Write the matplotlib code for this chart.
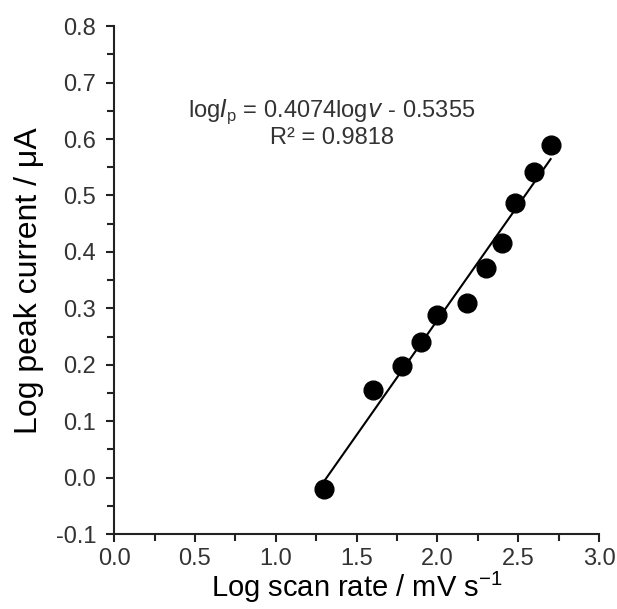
import numpy as np
import matplotlib
matplotlib.use("Agg")
import matplotlib.pyplot as plt
from matplotlib.ticker import MultipleLocator, FormatStrFormatter

plt.rcParams['font.family'] = ['Liberation Sans', 'DejaVu Sans']

log_scan_rate = [1.30, 1.60, 1.78, 1.90, 2.00, 2.18, 2.30, 2.40, 2.48, 2.60, 2.70]
log_peak_current = [-0.020, 0.155, 0.198, 0.240, 0.289, 0.310, 0.371, 0.416, 0.487, 0.541, 0.590]
slope = 0.4074
intercept = -0.5355
equation_text = r"log$I_{\mathregular{p}}$ = 0.4074log$v$ - 0.5355"
r2_text = "R² = 0.9818"

fig = plt.figure(figsize=(6.17, 6.09), dpi=100)
ax = fig.add_axes([0.185, 0.123, 0.786, 0.834])

ax.plot(log_scan_rate, log_peak_current, 'o', color='black', markersize=13.5, zorder=3)
xfit = np.array([min(log_scan_rate), max(log_scan_rate)])
ax.plot(xfit, slope * xfit + intercept, '-', color='black', linewidth=1.5, zorder=2)

ax.set_xlim(0, 3.0)
ax.set_ylim(-0.1, 0.8)
ax.xaxis.set_major_locator(MultipleLocator(0.5))
ax.xaxis.set_minor_locator(MultipleLocator(0.25))
ax.yaxis.set_major_locator(MultipleLocator(0.1))
ax.yaxis.set_minor_locator(MultipleLocator(0.05))
ax.xaxis.set_major_formatter(FormatStrFormatter('%.1f'))
ax.yaxis.set_major_formatter(FormatStrFormatter('%.1f'))

for s in ['top', 'right']:
    ax.spines[s].set_visible(False)
for s in ['left', 'bottom']:
    ax.spines[s].set_linewidth(1.5)
    ax.spines[s].set_color('#222222')

ax.tick_params(which='both', direction='out', width=1.5, color='#222222')
ax.tick_params(which='major', length=6, labelsize=17, labelcolor='#333333')
ax.tick_params(axis='x', which='major', pad=4)
ax.tick_params(axis='y', which='major', pad=7)
ax.tick_params(which='minor', length=5)

ax.set_xlabel("Log scan rate / mV s$^{\\mathregular{-1}}$", fontsize=21, labelpad=0)
ax.set_ylabel("Log peak current / μA", fontsize=23, labelpad=8)

ax.text(1.346, 0.648, equation_text, ha='center', va='center', fontsize=17, color='#333333')
ax.text(1.346, 0.602, r2_text, ha='center', va='center', fontsize=17, color='#333333')

fig.savefig("out.png", dpi=100)
